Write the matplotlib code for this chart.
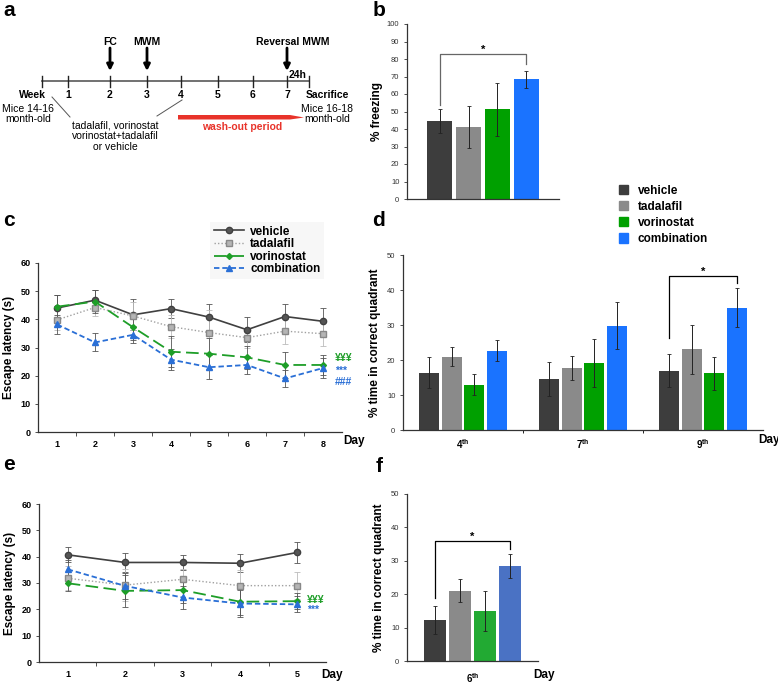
"""Multi-panel figure: timeline, freezing bars, MWM escape latency and probe-trial bars."""

import matplotlib
matplotlib.use("Agg")
import matplotlib.pyplot as plt
from matplotlib.patches import Patch
import numpy as np

plt.rcParams["font.family"] = ["Liberation Sans", "DejaVu Sans"]
plt.rcParams["mathtext.fontset"] = "custom"
plt.rcParams["mathtext.bf"] = "Liberation Sans:bold"
plt.rcParams["mathtext.rm"] = "Liberation Sans"

# ---------------- data ----------------
groups = ["vehicle", "tadalafil", "vorinostat", "combination"]

# b: fear conditioning
freezing = [44.6, 41.3, 51.2, 68.4]
freezing_err = [7.0, 12.0, 15.0, 5.0]

# c: MWM acquisition
days_c = ["1", "2", "3", "4", "5", "6", "7", "8"]
lat_c = {
    "vehicle":     [44.0, 46.8, 41.6, 43.8, 40.8, 36.3, 41.0, 39.3],
    "tadalafil":   [39.8, 44.2, 41.2, 37.4, 35.3, 33.5, 35.8, 34.9],
    "vorinostat":  [44.5, 46.3, 37.2, 28.5, 27.8, 26.5, 23.8, 23.8],
    "combination": [38.2, 31.8, 34.5, 25.7, 23.0, 23.8, 19.0, 22.7],
}
lat_c_err = {
    "vehicle":     [4.5, 3.5, 5.5, 3.5, 4.5, 4.5, 4.5, 4.7],
    "tadalafil":   [3.5, 3.0, 5.0, 4.0, 8.0, 3.5, 4.7, 4.5],
    "vorinostat":  [4.0, 4.0, 4.5, 5.5, 5.5, 4.0, 4.6, 3.5],
    "combination": [3.5, 3.2, 3.0, 3.7, 4.2, 3.3, 3.0, 3.4],
}

# d: probe trials
probe_days = ["4$^{\\mathbf{th}}$", "7$^{\\mathbf{th}}$", "9$^{\\mathbf{th}}$"]
quad_d = {
    "vehicle":     [16.4, 14.5, 17.0],
    "tadalafil":   [21.0, 17.7, 23.1],
    "vorinostat":  [12.9, 19.1, 16.2],
    "combination": [22.6, 29.8, 35.0],
}
quad_d_err = {
    "vehicle":     [4.4, 4.8, 4.6],
    "tadalafil":   [2.6, 3.4, 7.0],
    "vorinostat":  [3.0, 6.8, 4.7],
    "combination": [3.0, 6.7, 5.5],
}

# e: reversal MWM
days_e = ["1", "2", "3", "4", "5"]
lat_e = {
    "vehicle":     [40.7, 37.8, 37.8, 37.5, 41.6],
    "tadalafil":   [31.8, 29.2, 31.4, 29.0, 29.0],
    "vorinostat":  [29.9, 27.0, 27.3, 22.9, 23.1],
    "combination": [35.2, 28.9, 24.5, 22.2, 21.9],
}
lat_e_err = {
    "vehicle":     [2.8, 3.5, 2.8, 3.5, 4.0],
    "tadalafil":   [4.5, 6.0, 4.0, 6.0, 5.2],
    "vorinostat":  [3.0, 6.0, 5.0, 5.0, 3.0],
    "combination": [3.5, 5.0, 4.5, 5.0, 3.0],
}

# f: reversal probe
reversal_day = ["6$^{\\mathbf{th}}$"]
quad_f = [12.3, 21.1, 14.9, 28.4]
quad_f_err = [4.1, 3.5, 6.0, 3.5]

# a: timeline
week_labels = ["Week", "1", "2", "3", "4", "5", "6", "7"]

# ---------------- styles ----------------
bar_colors = ["#3d3d3d", "#8a8a8a", "#00a000", "#1a73ff"]
bar_colors_f = ["#3d3d3d", "#8a8a8a", "#22aa33", "#4a72c4"]
line_style = {
    "vehicle":     dict(color="#404040", ls="-", marker="o", ms=4.5, lw=1.2, mfc="#555555"),
    "tadalafil":   dict(color="#a0a0a0", ls=(0, (1, 1.5)), marker="s", ms=4.5, lw=1.0, mfc="#b5b5b5", mec="#888888"),
    "vorinostat":  dict(color="#1e9e28", ls=(0, (7, 3)), marker="D", ms=3, lw=1.3),
    "combination": dict(color="#2a6fd6", ls=(0, (3, 1.6)), marker="^", ms=4.5, lw=1.3),
}
err_color = {"vehicle": "#555555", "tadalafil": "#bbbbbb", "vorinostat": "#555555", "combination": "#555555"}

W, H = 778, 687


def rect(x0, y0, x1, y1):
    return [x0 / W, 1 - y1 / H, (x1 - x0) / W, (y1 - y0) / H]


def style_axes(ax):
    for s in ["top", "right"]:
        ax.spines[s].set_visible(False)
    for s in ["left", "bottom"]:
        ax.spines[s].set_color("#333333")
        ax.spines[s].set_linewidth(0.9)
    ax.tick_params(axis="y", direction="out", length=2, width=0.6, colors="#333333")


def line_panel(ax, days, vals, errs, annots, annot_x):
    x = np.arange(1, len(days) + 1)
    handles = []
    for g in groups:
        ax.errorbar(x, vals[g], yerr=errs[g], fmt="none", ecolor=err_color[g],
                    elinewidth=0.6, capsize=2, capthick=0.6, zorder=1)
        h, = ax.plot(x, vals[g], label=g, zorder=2, **line_style[g])
        handles.append(h)
    style_axes(ax)
    ax.set_xlim(0.5, len(days) + 0.5)
    ax.set_ylim(0, 60)
    ax.set_yticks(np.arange(0, 61, 10))
    ax.set_xticks(x, days)
    ax.set_xticks(np.arange(1.5, len(days)), minor=True)
    ax.tick_params(axis="x", which="major", length=0, pad=6)
    ax.tick_params(axis="x", which="minor", length=3, width=0.6, direction="out", colors="#333333")
    for lab in ax.get_xticklabels() + ax.get_yticklabels():
        lab.set_fontsize(6.5)
        lab.set_fontweight("bold")
        lab.set_color("black")
    ax.set_ylabel("Escape latency (s)", fontsize=8.5, fontweight="bold", labelpad=4)
    for txt, col, ypos in annots:
        ax.text(annot_x, ypos, txt, color=col, fontsize=7.5,
                fontweight="bold", transform=ax.transAxes, va="center", ha="left")
    return handles


def bar_panel(ax, cats, vals, errs, colors, ylim, ytick_step, width=0.167, step=0.19):
    x = np.arange(len(cats))
    offsets = (np.arange(len(groups)) - 1.5) * step
    for i, g in enumerate(groups):
        ax.bar(x + offsets[i], vals[i], width, color=colors[i], yerr=errs[i],
               error_kw=dict(elinewidth=0.7, capsize=1.5, capthick=0.6, ecolor="#222222"))
    style_axes(ax)
    ax.set_xlim(-0.5, len(cats) - 0.5)
    ax.set_ylim(0, ylim)
    ax.set_yticks(np.arange(0, ylim + 1, ytick_step))
    for lab in ax.get_yticklabels():
        lab.set_fontsize(5.5)
    return x, offsets


def bracket(ax, x1, x2, y1, y2, ytop, color="black"):
    ax.plot([x1, x1, x2, x2], [y1, ytop, ytop, y2], color=color, lw=0.9)
    ax.text((x1 + x2) / 2, ytop + 1.2 * ax.get_ylim()[1] / 50, "*", ha="center", va="center",
            fontsize=8, fontweight="bold")


fig = plt.figure(figsize=(W / 100, H / 100), dpi=100)

# ---------------- a: timeline ----------------
axa = fig.add_axes([0, 0, 1, 1])
axa.set_xlim(0, W)
axa.set_ylim(H, 0)
axa.axis("off")
week_x = [41.7, 68, 110, 147, 181, 218, 253, 287]
end_x = 309
axa.plot([week_x[0], end_x], [81, 81], color="#666666", lw=1.3)
for wx, wl in zip(week_x + [end_x], week_labels + [""]):
    axa.plot([wx, wx], [76, 87], color="#222222", lw=1.0)
    if wl and wl != "Week":
        axa.text(wx, 95, wl, ha="center", va="center", fontsize=7.5, fontweight="bold")
axa.text(32, 95, "Week", ha="center", va="center", fontsize=7.5, fontweight="bold")
axa.text(28, 114, "Mice 14-16\nmonth-old", ha="center", va="center", fontsize=7.5, linespacing=1.1)
axa.text(327, 95, "Sacrifice", ha="center", va="center", fontsize=7.5, fontweight="bold")
axa.text(327, 114, "Mice 16-18\nmonth-old", ha="center", va="center", fontsize=7.5, linespacing=1.1)
axa.text(115, 136, "tadalafil, vorinostat\nvorinostat+tadalafil\nor vehicle", ha="center",
         va="center", fontsize=7.5, linespacing=1.1)
axa.plot([52, 70], [97, 117], color="#555555", lw=0.7)
axa.plot([182, 157], [100, 116], color="#555555", lw=0.7)
for lbl, ax_x, tx in [("FC", week_x[2], week_x[2]), ("MWM", week_x[3], week_x[3]),
                      ("Reversal MWM", week_x[7], 293)]:
    axa.text(tx, 42, lbl, ha="center", va="center", fontsize=7.5, fontweight="bold")
    axa.annotate("", xy=(ax_x, 71), xytext=(ax_x, 48),
                 arrowprops=dict(arrowstyle="-|>", lw=2, color="black", mutation_scale=9,
                                 shrinkA=0, shrinkB=0))
axa.text(298, 75, "24h", ha="center", va="center", fontsize=7.5, fontweight="bold")
axa.fill([178, 290, 304, 290, 178], [115.0, 115.0, 117.5, 119.5, 119.5], color="#e8332a", lw=0)
axa.text(242, 126.5, "wash-out period", ha="center", va="center", fontsize=7.5,
         fontweight="bold", color="#e8332a")

# panel letters
for letter, (lx, ly) in zip("abcdef", [(9, 10), (379, 10), (9, 220), (379, 220), (9, 464), (379, 466)]):
    axa.text(lx, ly, letter, ha="center", va="center", fontsize=15, fontweight="bold")

# ---------------- b ----------------
axb = fig.add_axes(rect(407, 24, 559, 199))
xb, offb = bar_panel(axb, ["FC"], [[v] for v in freezing], [[e] for e in freezing_err],
                     bar_colors, 100, 10)
axb.set_xticks([])
axb.set_ylabel("% freezing", fontsize=8.5, fontweight="bold", labelpad=3)
bracket(axb, offb[0], offb[3], 54, 77, 83, color="#666666")

# ---------------- c ----------------
axc = fig.add_axes(rect(38, 263, 342, 432))
handles = line_panel(axc, days_c, lat_c, lat_c_err,
                     [("¥¥¥", "#1e9e28", 0.438), ("***", "#2a6fd6", 0.361), ("###", "#2a6fd6", 0.296)],
                     0.977)
axc.text(1.003, -0.053, "Day", transform=axc.transAxes, fontsize=8.5, fontweight="bold",
         va="center", ha="left")
fig.legend(handles, groups, loc="upper left", bbox_to_anchor=(210 / W, 1 - 222 / H),
           frameon=True, facecolor="#f6f6f6", edgecolor="none", fancybox=False,
           prop=dict(size=8.5, weight="bold"), handlelength=2.6, labelspacing=0.05,
           borderpad=0.3, handletextpad=0.5, borderaxespad=0)

# ---------------- d ----------------
axd = fig.add_axes(rect(403, 255, 763, 430))
xd, offd = bar_panel(axd, probe_days, [quad_d[g] for g in groups], [quad_d_err[g] for g in groups],
                     bar_colors, 50, 10)
axd.set_xticks(xd, probe_days)
axd.set_xticks([0.5, 1.5], minor=True)
axd.tick_params(axis="x", which="major", length=0, pad=5)
axd.tick_params(axis="x", which="minor", length=2.5, width=0.6, direction="out")
for lab in axd.get_xticklabels():
    lab.set_fontsize(7)
    lab.set_fontweight("bold")
axd.set_ylabel("% time in correct quadrant", fontsize=8.5, fontweight="bold", labelpad=4)
axd.text(0.986, -0.057, "Day", transform=axd.transAxes, fontsize=8.5, fontweight="bold",
         va="center", ha="left")
bracket(axd, xd[2] + offd[0], xd[2] + offd[3], 26.2, 41.9, 44.1)

# bar legend
fig.legend([Patch(color=c) for c in bar_colors], groups, loc="upper left",
           bbox_to_anchor=(614 / W, 1 - 180 / H), frameon=False,
           prop=dict(size=8.5, weight="bold"), handlelength=0.8, handleheight=0.8,
           labelspacing=0.35, handletextpad=0.8, borderaxespad=0)

# ---------------- e ----------------
axe = fig.add_axes(rect(39, 504, 326, 662))
line_panel(axe, days_e, lat_e, lat_e_err,
           [("¥¥¥", "#1e9e28", 0.392), ("***", "#2a6fd6", 0.329)], 0.934)
axe.text(0.983, -0.082, "Day", transform=axe.transAxes, fontsize=8.5, fontweight="bold",
         va="center", ha="left")

# ---------------- f ----------------
axf = fig.add_axes(rect(407, 494, 538, 661))
xf, offf = bar_panel(axf, reversal_day, [[v] for v in quad_f], [[e] for e in quad_f_err],
                     bar_colors_f, 50, 10)
axf.set_xticks(xf, reversal_day)
axf.tick_params(axis="x", length=0, pad=7)
for lab in axf.get_xticklabels():
    lab.set_fontsize(7)
    lab.set_fontweight("bold")
axf.set_ylabel("% time in correct quadrant", fontsize=8.5, fontweight="bold", labelpad=4)
axf.text(0.96, -0.084, "Day", transform=axf.transAxes, fontsize=8.5, fontweight="bold",
         va="center", ha="left")
bracket(axf, offf[0], offf[3], 18.8, 33.6, 36.0)

fig.savefig("out.png", dpi=100)
plt.close(fig)
